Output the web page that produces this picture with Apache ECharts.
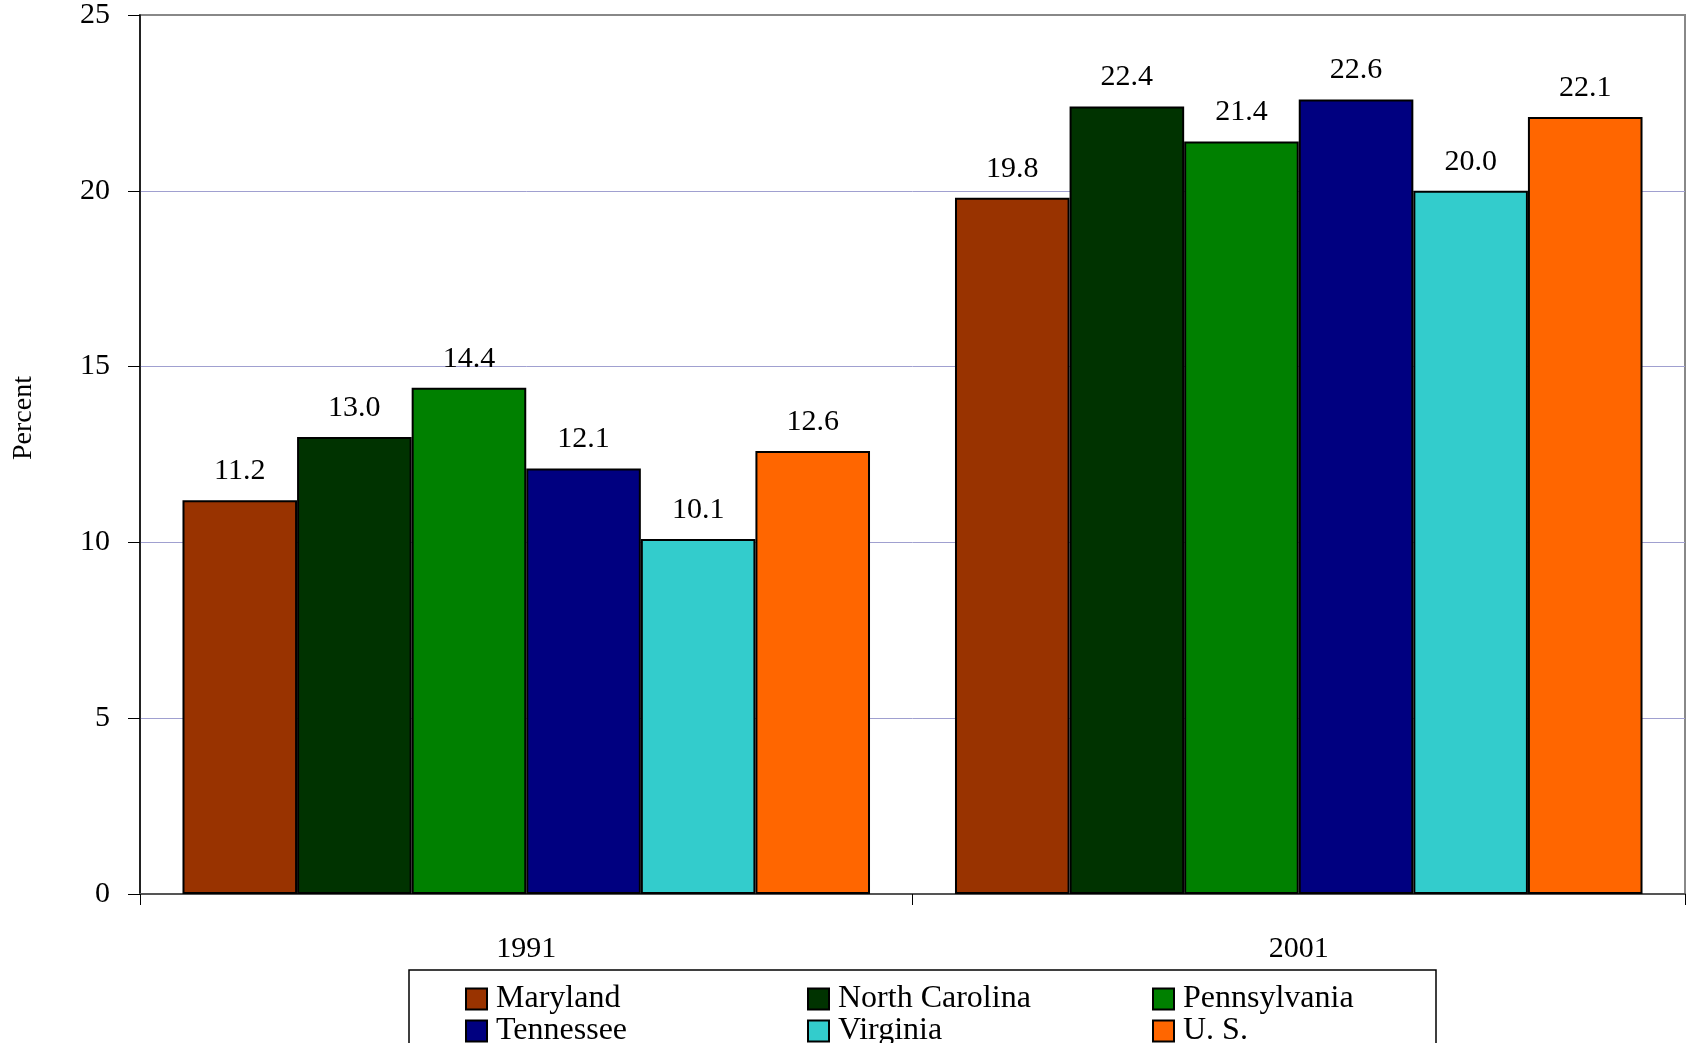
<!DOCTYPE html>
<html>
<head>
<meta charset="utf-8">
<script src="https://cdn.jsdelivr.net/npm/echarts@6/dist/echarts.min.js"></script>
<style>
  html, body { margin: 0; padding: 0; background: #fff; }
  #chart { width: 1688px; height: 1043px; }
</style>
</head>
<body>
<div id="chart"></div>
<script>
var years = ["1991", "2001"];
var states = ["Maryland", "North Carolina", "Pennsylvania", "Tennessee", "Virginia", "U. S."];
var colors = ["#993300", "#003300", "#008000", "#000080", "#33CCCC", "#FF6600"];
var maryland = [11.2, 19.8];
var northCarolina = [13.0, 22.4];
var pennsylvania = [14.4, 21.4];
var tennessee = [12.1, 22.6];
var virginia = [10.1, 20.0];
var us = [12.6, 22.1];
var values = [maryland, northCarolina, pennsylvania, tennessee, virginia, us];

var font = "'Liberation Serif', 'Times New Roman', serif";
var chart = echarts.init(document.getElementById("chart"));

var series = states.map(function (name, i) {
    return {
        type: "bar",
        name: name,
        data: values[i],
        barGap: 0,
        barCategoryGap: "11%",
        itemStyle: { color: colors[i], borderColor: "#000", borderWidth: 2 },
        label: {
            show: true,
            position: "top",
            distance: 14,
            color: "#000",
            fontFamily: font,
            fontSize: 30,
            formatter: function (p) { return p.value.toFixed(1); }
        }
    };
});

// one legend per column so the three columns line up like the original
function legendCol(names, left) {
    return {
        orient: "vertical",
        left: left,
        top: 983,
        height: 150,
        padding: 0,
        itemGap: 0,
        itemWidth: 21,
        itemHeight: 21,
        icon: "rect",
        data: names,
        selectedMode: false,
        textStyle: { fontFamily: font, fontSize: 32, color: "#000", lineHeight: 30, padding: [0, 0, 0, 4] }
    };
}

chart.setOption({
    animation: false,
    backgroundColor: "#fff",
    grid: {
        left: 140, right: 3, top: 15, bottom: 149,
        show: true, borderColor: "#888", borderWidth: 2, backgroundColor: "transparent"
    },
    xAxis: {
        type: "category",
        data: years,
        axisLine: { lineStyle: { color: "#555", width: 2 } },
        axisTick: { show: true, length: 11, lineStyle: { color: "#000" } },
        axisLabel: { color: "#000", fontFamily: font, fontSize: 30, margin: 40 }
    },
    yAxis: {
        type: "value",
        min: 0, max: 25, interval: 5,
        axisLine: { show: true, lineStyle: { color: "#000", width: 1.5 } },
        axisTick: { show: true, length: 12, lineStyle: { color: "#000" } },
        axisLabel: { color: "#000", fontFamily: font, fontSize: 30, margin: 30 },
        splitLine: { showMaxLine: false, showMinLine: false, lineStyle: { color: "#A0A0D0", width: 1 } }
    },
    legend: [
        legendCol([states[0], states[3]], 465),
        legendCol([states[1], states[4]], 807),
        legendCol([states[2], states[5]], 1152)
    ],
    graphic: [
        {
            type: "rect",
            shape: { x: 409, y: 970, width: 1027, height: 100 },
            style: { fill: "none", stroke: "#000", lineWidth: 1.5 }
        },
        {
            type: "text",
            x: 24, y: 418,
            rotation: Math.PI / 2,
            style: {
                text: "Percent",
                fontFamily: font, fontSize: 28, fill: "#000",
                textAlign: "center", textVerticalAlign: "middle"
            }
        }
    ],
    series: series
});
</script>
</body>
</html>
